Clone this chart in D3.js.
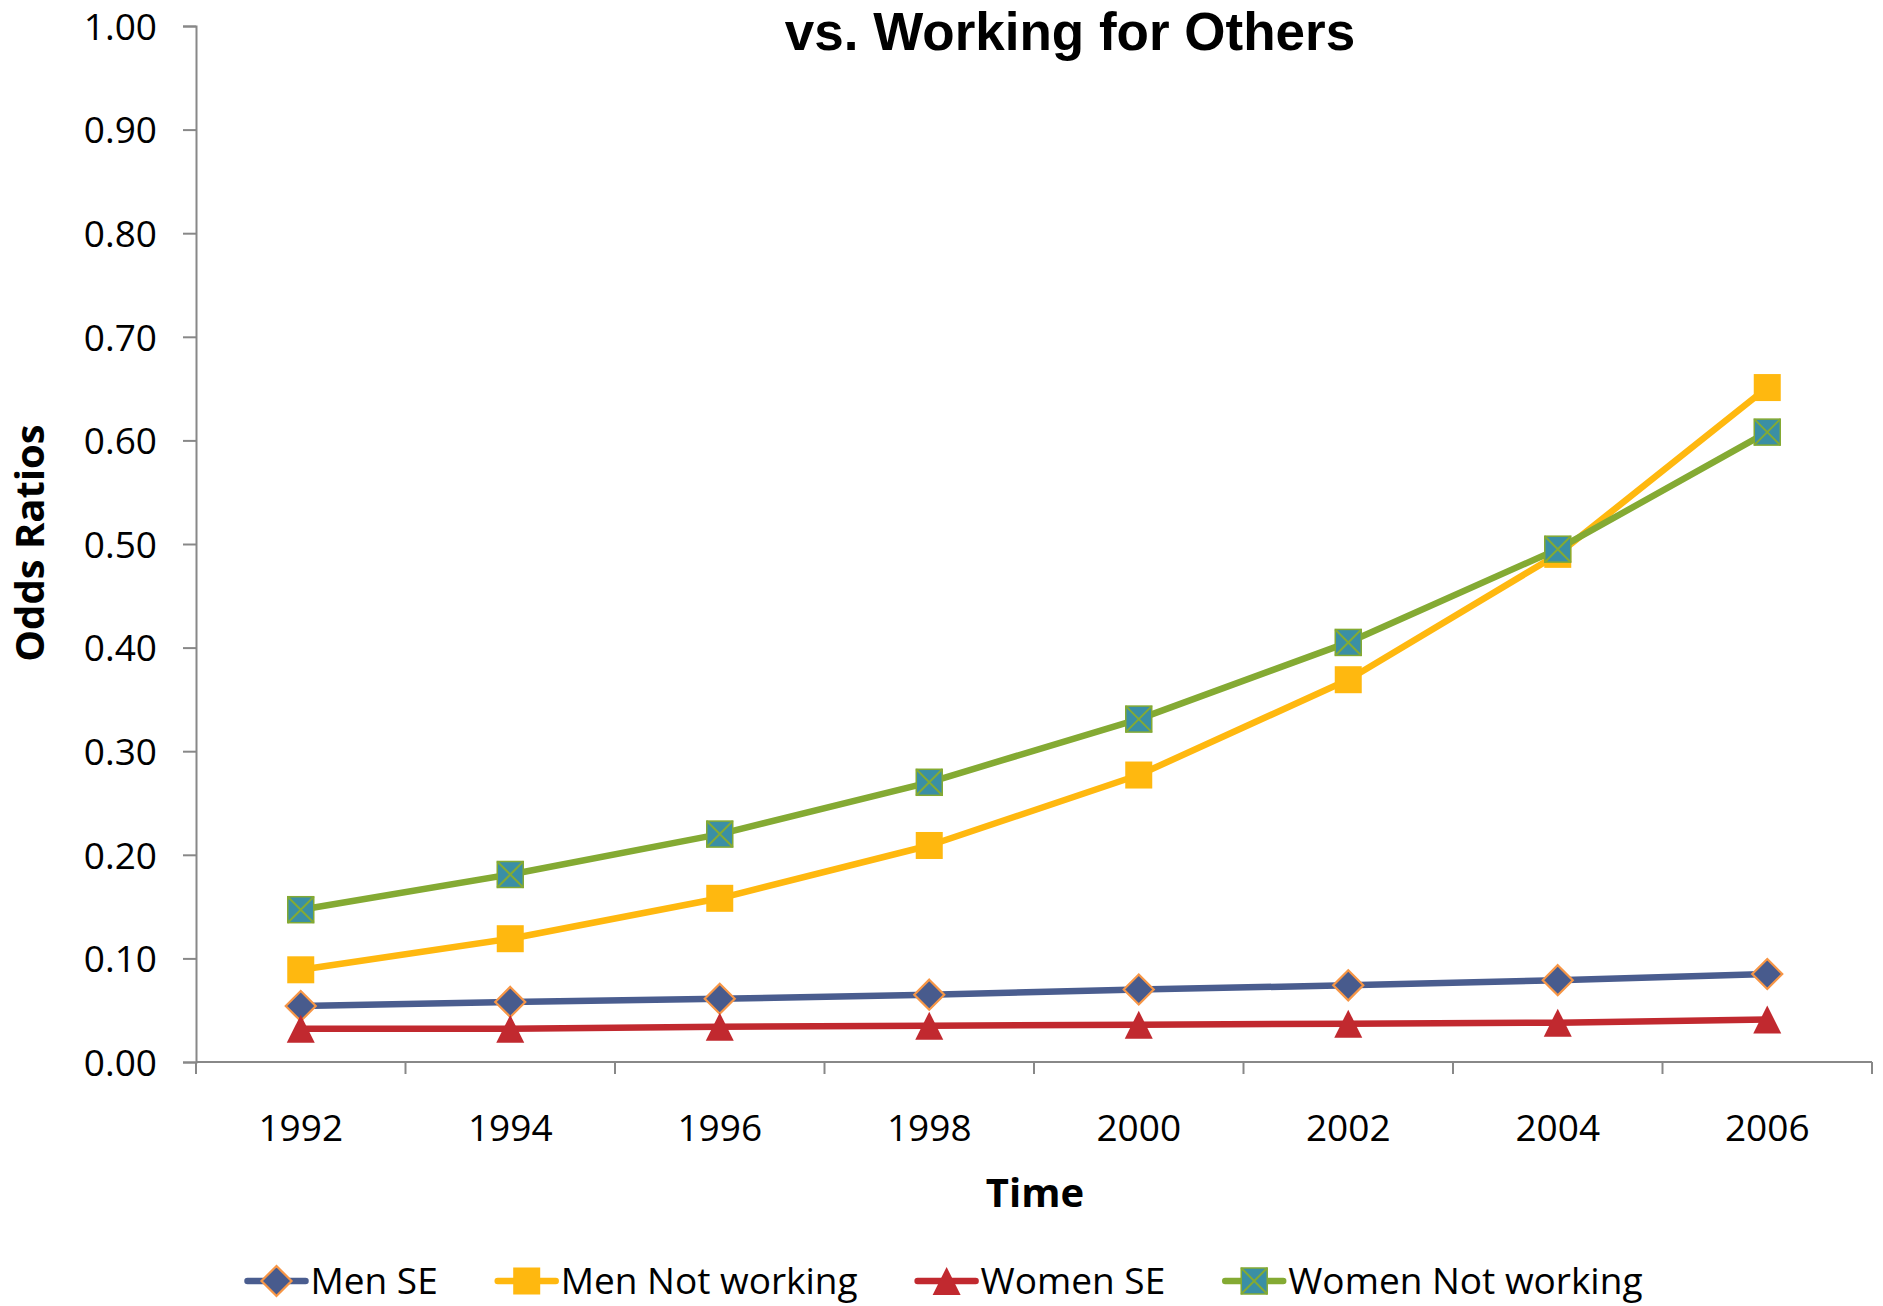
<!DOCTYPE html>
<html>
<head>
<meta charset="utf-8">
<script src="https://cdn.jsdelivr.net/npm/d3@7"></script>
<style>
  html, body { margin: 0; padding: 0; background: #fff; }
  svg { display: block; }
</style>
</head>
<body>
<svg id="chart" width="1883" height="1306"></svg>
<script>
const years = ["1992","1994","1996","1998","2000","2002","2004","2006"];
const menSE = [0.054, 0.058, 0.061, 0.065, 0.070, 0.074, 0.079, 0.085];
const menNotWorking = [0.089, 0.119, 0.158, 0.209, 0.277, 0.369, 0.490, 0.651];
const womenSE = [0.032, 0.032, 0.034, 0.035, 0.036, 0.037, 0.038, 0.041];
const womenNotWorking = [0.147, 0.181, 0.220, 0.270, 0.331, 0.405, 0.495, 0.608];
const yTicks = [0, 0.1, 0.2, 0.3, 0.4, 0.5, 0.6, 0.7, 0.8, 0.9, 1.0];
const seriesNames = ["Men SE", "Men Not working", "Women SE", "Women Not working"];
const titleText = "vs. Working for Others";
const yTitle = "Odds Ratios";
const xTitle = "Time";

(function () {
const series = [
  {name: seriesNames[0], values: menSE, line: "#4A5D8F", marker: "diamond", fill: "#485B8D", stroke: "#F79646"},
  {name: seriesNames[1], values: menNotWorking, line: "#FFB80F", marker: "square", fill: "#FFB80F", stroke: "#FFB80F"},
  {name: seriesNames[2], values: womenSE, line: "#C1292F", marker: "triangle", fill: "#C1292F", stroke: "#C1292F"},
  {name: seriesNames[3], values: womenNotWorking, line: "#84AA33", marker: "xsquare", fill: "#3A8FA5", stroke: "#84AA33"}
];

const svg = d3.select("#chart");
const pLeft = 196, pRight = 1872, pTop = 26, pBottom = 1062;
const tickFont = "'Open Sans', sans-serif";

const x = d3.scaleBand().domain(years).range([pLeft, pRight]);
const xc = d => x(d) + x.bandwidth() / 2;
const y = d3.scaleLinear().domain([0, 1]).range([pBottom, pTop]);

// Title
svg.append("text")
  .attr("x", 1070).attr("y", 50)
  .attr("text-anchor", "middle")
  .attr("font-family", "'Liberation Sans', Arial, sans-serif")
  .attr("font-weight", "bold")
  .attr("font-size", 53)
  .attr("fill", "#000")
  .text(titleText);

// Y axis
const yAxis = svg.append("g")
  .attr("transform", `translate(${pLeft},0)`)
  .call(d3.axisLeft(y).tickValues(yTicks).tickSize(13).tickPadding(26).tickFormat(d3.format(".2f")));
yAxis.select(".domain").attr("stroke", "#888").attr("stroke-width", 2);
yAxis.selectAll(".tick line").attr("stroke", "#888").attr("stroke-width", 2);
yAxis.selectAll(".tick text")
  .attr("font-family", tickFont).attr("font-size", 37).attr("fill", "#000")
  .attr("dy", "0.36em");

// X axis (ticks at band boundaries, labels at centers)
const xg = svg.append("g");
xg.append("line")
  .attr("x1", pLeft).attr("x2", pRight).attr("y1", pBottom).attr("y2", pBottom)
  .attr("stroke", "#888").attr("stroke-width", 2);
const boundaries = years.map(d => x(d)).concat([pRight]);
xg.selectAll("line.tk").data(boundaries).enter().append("line")
  .attr("class", "tk")
  .attr("x1", d => d).attr("x2", d => d)
  .attr("y1", pBottom).attr("y2", pBottom + 12)
  .attr("stroke", "#888").attr("stroke-width", 2);
xg.selectAll("text").data(years).enter().append("text")
  .attr("x", d => xc(d)).attr("y", 1141)
  .attr("text-anchor", "middle")
  .attr("font-family", tickFont).attr("font-size", 37).attr("fill", "#000")
  .text(d => d);

// Axis titles
svg.append("text")
  .attr("transform", `translate(44,543) rotate(-90)`)
  .attr("text-anchor", "middle")
  .attr("font-family", tickFont).attr("font-weight", "bold")
  .attr("font-size", 40).attr("fill", "#000")
  .text(yTitle);
svg.append("text")
  .attr("x", 1035).attr("y", 1207)
  .attr("text-anchor", "middle")
  .attr("font-family", tickFont).attr("font-weight", "bold")
  .attr("font-size", 40).attr("fill", "#000")
  .text(xTitle);

// Marker drawing
function drawMarker(g, s, cx, cy) {
  if (s.marker === "diamond") {
    const r = 15;
    g.append("path")
      .attr("d", `M${cx},${cy - r}L${cx + r},${cy}L${cx},${cy + r}L${cx - r},${cy}Z`)
      .attr("fill", s.fill).attr("stroke", s.stroke).attr("stroke-width", 2.2);
  } else if (s.marker === "square") {
    const h = 13.5;
    g.append("rect")
      .attr("x", cx - h).attr("y", cy - h).attr("width", 2 * h).attr("height", 2 * h)
      .attr("fill", s.fill);
  } else if (s.marker === "triangle") {
    const w = 14, hh = 14;
    g.append("path")
      .attr("d", `M${cx},${cy - hh}L${cx + w},${cy + hh}L${cx - w},${cy + hh}Z`)
      .attr("fill", s.fill);
  } else if (s.marker === "xsquare") {
    const h = 13;
    g.append("rect")
      .attr("x", cx - h).attr("y", cy - h).attr("width", 2 * h).attr("height", 2 * h)
      .attr("fill", s.fill).attr("stroke", s.stroke).attr("stroke-width", 1.5);
    g.append("path")
      .attr("d", `M${cx - h},${cy - h}L${cx + h},${cy + h}M${cx + h},${cy - h}L${cx - h},${cy + h}`)
      .attr("stroke", s.stroke).attr("stroke-width", 2).attr("fill", "none");
  }
}

const line = d3.line().x((d, i) => xc(years[i])).y(d => y(d));

series.forEach(s => {
  const g = svg.append("g");
  g.append("path")
    .attr("d", line(s.values))
    .attr("fill", "none").attr("stroke", s.line).attr("stroke-width", 6.5)
    .attr("stroke-linejoin", "round");
  s.values.forEach((v, i) => drawMarker(g, s, xc(years[i]), y(v)));
});

// Legend
const legend = svg.append("g");
const legY = 1281;
let lx = 0;
const gap = 60;
series.forEach(s => {
  const g = legend.append("g").attr("transform", `translate(${lx},0)`);
  g.append("line")
    .attr("x1", 0).attr("x2", 58).attr("y1", legY).attr("y2", legY)
    .attr("stroke", s.line).attr("stroke-width", 6.5).attr("stroke-linecap", "round");
  drawMarker(g, s, 29, legY);
  const t = g.append("text")
    .attr("x", 63).attr("y", 1294)
    .attr("font-family", tickFont).attr("font-size", 37).attr("fill", "#000")
    .text(s.name);
  const w = t.node().getComputedTextLength();
  lx += 63 + w + gap;
});
const totalW = lx - gap;
legend.attr("transform", `translate(${945 - totalW / 2},0)`);
})();
</script>
</body>
</html>
